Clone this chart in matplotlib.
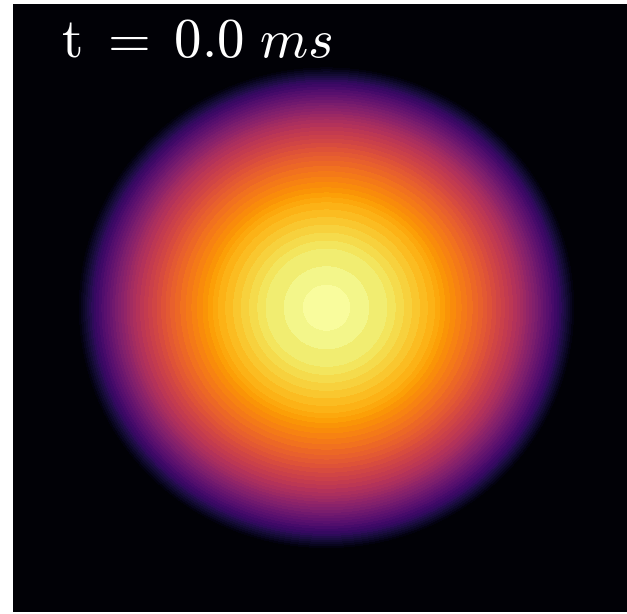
import numpy as np
import matplotlib.pyplot as plt

plt.rcParams['mathtext.fontset'] = 'cm'

# radial profile (fraction of disc radius -> normalised value)
r_frac = np.array([0.0, 0.10, 0.24, 0.33, 0.43, 0.49, 0.61, 0.69, 0.77, 0.85, 0.93, 1.0])
r_val = np.array([1.0, 0.978, 0.94, 0.885, 0.82, 0.76, 0.65, 0.56, 0.46, 0.32, 0.17, 0.0])
disc_radius = 0.795
t_ms = 0.0
n_levels = 50

x = np.linspace(-1, 1, 700)
X, Y = np.meshgrid(x, x)
R = np.sqrt(X**2 + Y**2) / disc_radius
Z = np.interp(R, r_frac, r_val, right=0.0)

fig = plt.figure(figsize=(6.27, 6.14), dpi=100)
ax = fig.add_axes([13 / 627, 2 / 614, 1.0, 608.5 / 614])
ax.contourf(X, Y, Z, levels=np.linspace(0, 1, n_levels), cmap='inferno')
ax.set_xlim(-1, 1)
ax.set_ylim(-1, 1)
ax.set_xticks([])
ax.set_yticks([])
for s in ax.spines.values():
    s.set_visible(False)

ax.text(0.077, 0.912, r'$\mathrm{t}\ =\;%.1f\ ms$' % t_ms, transform=ax.transAxes,
        color='white', fontsize=39.5, ha='left', va='baseline')

fig.savefig('out.png', dpi=100)
